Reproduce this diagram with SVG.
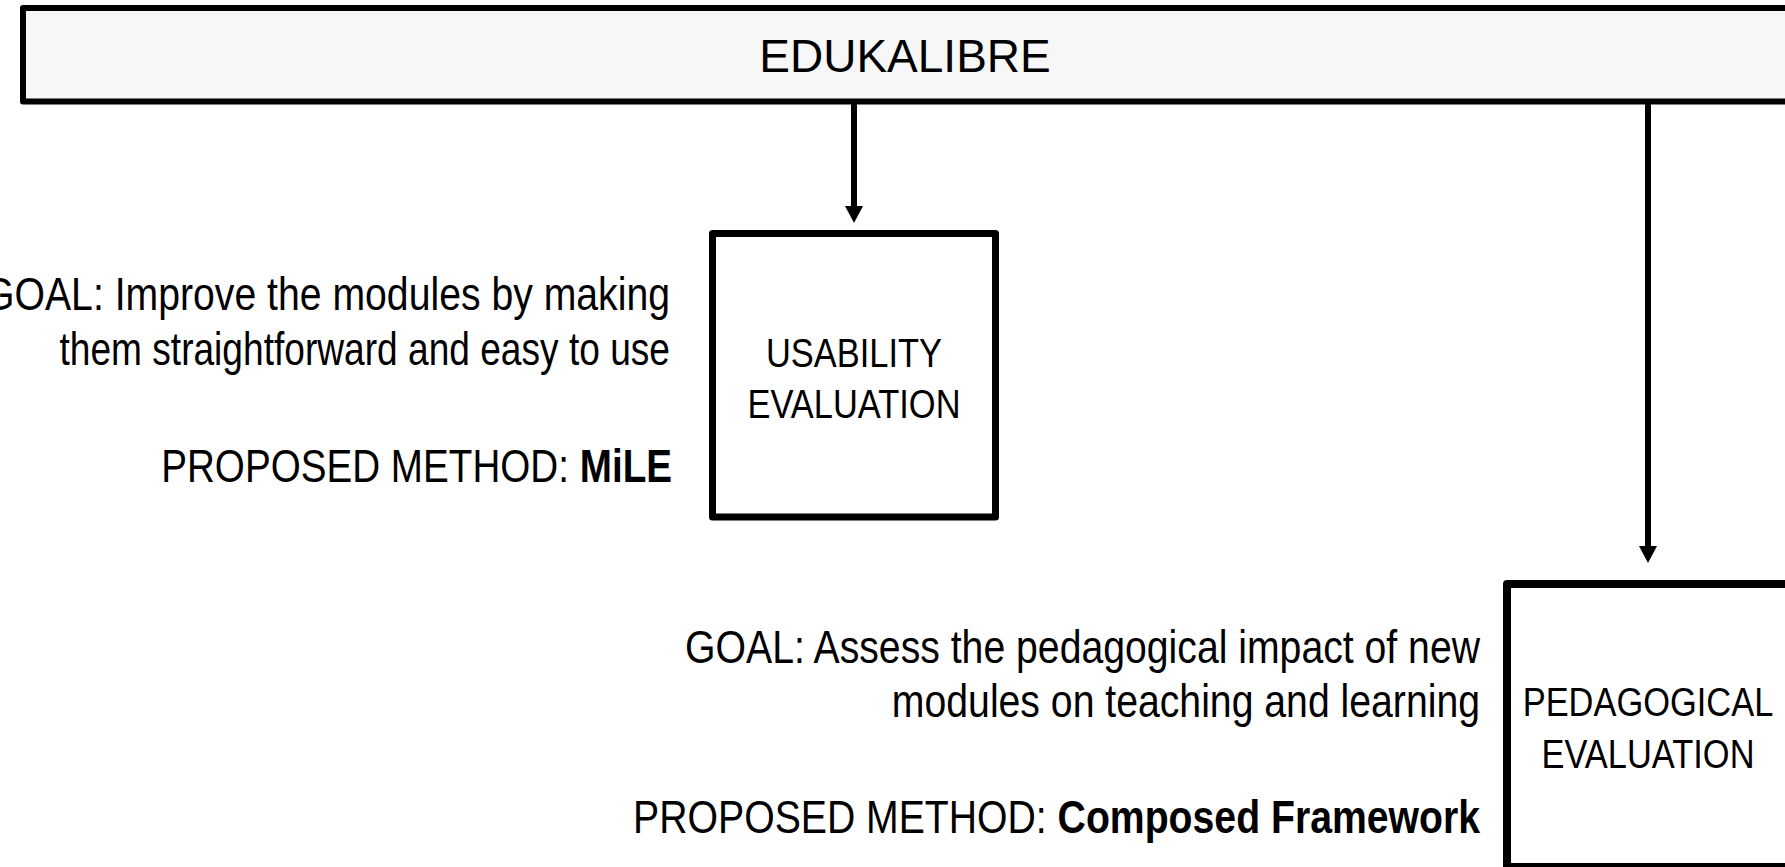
<svg xmlns="http://www.w3.org/2000/svg" width="1785" height="867" viewBox="0 0 1785 867">
<style>
.box{stroke:#000;stroke-linejoin:round}
.t{font-family:"Liberation Sans",Arial,sans-serif;fill:#000}
.n{font-family:"Liberation Sans",Arial,sans-serif;fill:#000;font-size:41px;text-anchor:middle}
.d{font-family:"Liberation Sans",Arial,sans-serif;fill:#000;font-size:46px;text-anchor:end}
.b{font-weight:bold}
.conn{stroke:#000;stroke-width:6;fill:none}
</style>
<defs>
<marker id="ah" markerUnits="userSpaceOnUse" markerWidth="18" markerHeight="18" refX="2" refY="9" orient="auto">
<path d="M0,0 L17,9 L0,18 Z" fill="#000"/>
</marker>
</defs>
<rect width="1785" height="867" fill="#fff"/>
<g id="edukalibre">
<rect class="box" x="23" y="8" width="1800" height="93.5" fill="#f7f7f7" stroke-width="6"/>
<text class="t" x="905" y="72" font-size="46" text-anchor="middle">EDUKALIBRE</text>
</g>
<g id="connectors">
<line class="conn" x1="854" y1="103" x2="854" y2="208" marker-end="url(#ah)"/>
<line class="conn" x1="1648" y1="103" x2="1648" y2="548" marker-end="url(#ah)"/>
</g>
<g id="usability">
<rect class="box" x="712.5" y="233.5" width="283" height="283.5" fill="#fff" stroke-width="7"/>
<g transform="translate(854,0) scale(0.84,1)">
<text class="n" x="0" y="367">USABILITY</text>
<text class="n" x="0" y="418">EVALUATION</text>
</g>
</g>
<g id="usability-notes">
<text class="d" transform="translate(670,310) scale(0.852,1)">GOAL: Improve the modules by making</text>
<text class="d" transform="translate(670,365) scale(0.807,1)">them straightforward and easy to use</text>
<text class="d" transform="translate(672,482) scale(0.84,1)">PROPOSED METHOD: <tspan class="b">MiLE</tspan></text>
</g>
<g id="pedagogical">
<rect class="box" x="1507" y="584" width="283" height="283" fill="#fff" stroke-width="8"/>
<g transform="translate(1648,0) scale(0.84,1)">
<text class="n" x="0" y="716">PEDAGOGICAL</text>
<text class="n" x="0" y="768">EVALUATION</text>
</g>
</g>
<g id="pedagogical-notes">
<text class="d" transform="translate(1480,663) scale(0.852,1)">GOAL: Assess the pedagogical impact of new</text>
<text class="d" transform="translate(1480,717) scale(0.852,1)">modules on teaching and learning</text>
<text class="d" transform="translate(1480,833) scale(0.852,1)">PROPOSED METHOD: <tspan class="b">Composed Framework</tspan></text>
</g>
</svg>
